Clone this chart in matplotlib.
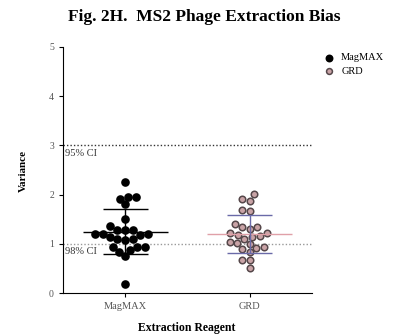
import numpy as np
import matplotlib
matplotlib.use('Agg')
import matplotlib.pyplot as plt

plt.rcParams['font.family'] = ['Liberation Serif', 'DejaVu Serif']

# values
groups = ['MagMAX', 'GRD']
magmax = [2.25, 1.96, 1.92, 1.95, 1.80, 1.51, 1.36, 1.21, 1.19, 1.29, 1.29, 1.29,
          1.21, 1.21, 1.10, 1.08, 1.10, 1.13, 0.93, 0.93, 0.83, 0.75, 0.88, 0.93, 0.18]
grd = [2.01, 1.88, 1.92, 1.69, 1.66, 1.34, 1.30, 1.34, 1.40, 1.23, 1.14, 1.18, 1.16,
       1.23, 1.04, 1.10, 1.01, 0.99, 0.94, 0.89, 0.91, 0.83, 0.67, 0.68, 0.51]
ci_levels = [3, 1]
ci_labels = ['95% CI', '98% CI']

fig = plt.figure(figsize=(3.96, 3.35), dpi=100)
ax = fig.add_axes([0.159, 0.125, 0.629, 0.735])
ax.set_xlim(-0.5, 1.5)
ax.set_ylim(0, 5)


def swarm(vals, center, diam):
    # simple beeswarm in pixel space
    vals = np.asarray(vals, float)
    pts = ax.transData.transform(np.column_stack([np.full(len(vals), center), vals]))
    steps = np.arange(0, 60, 0.5)
    cands = np.concatenate([[0], np.ravel(np.column_stack([-steps[1:], steps[1:]]))])
    placed = []
    out = np.zeros(len(vals))
    for i in np.argsort(vals):
        x0, y0 = pts[i]
        for c in cands:
            x = x0 + c
            if all((x - px) ** 2 + (y0 - py) ** 2 >= diam ** 2 for px, py in placed):
                break
        placed.append((x, y0))
        out[i] = ax.transData.inverted().transform((x, y0))[0]
    return out


styles = [
    dict(face='black', edge='black', mean='black', sd='black', s=26),
    dict(face='#c9a3a6', edge='#55474a', mean='#e0a0a8', sd='#6a6aa8', s=22),
]

for i, (name, vals) in enumerate(zip(groups, [magmax, grd])):
    st = styles[i]
    xs = swarm(vals, i, 7.6)
    ax.scatter(xs, vals, s=st['s'], c=st['face'], edgecolors=st['edge'], linewidths=1.1,
               zorder=3, label=name)
    m = np.mean(vals)
    sd = np.std(vals, ddof=1)
    ax.hlines(m, i - 0.34, i + 0.34, color=st['mean'], lw=1.0, zorder=4)
    ax.hlines([m - sd, m + sd], i - 0.18, i + 0.18, color=st['sd'], lw=1.0, zorder=4)
    ax.vlines(i, m - sd, m + sd, color=st['sd'], lw=1.0, zorder=4)

for lvl, lab, col in zip(ci_levels, ci_labels, ['#333333', '#999999']):
    ax.axhline(lvl, color=col, ls=(0, (1, 1.5)), lw=1.0, zorder=1)
    ax.text(-0.48, lvl - 0.07, lab, fontsize=7.5, color='#333333', va='top', ha='left')

ax.spines['top'].set_visible(False)
ax.spines['right'].set_visible(False)
ax.set_xticks([0, 1])
ax.set_xticklabels(groups, fontsize=7.5, color='#555555')
ax.set_yticks([0, 1, 2, 3, 4, 5])
ax.tick_params(axis='y', labelsize=7, labelcolor='#555555', length=3)
ax.tick_params(axis='x', length=3)

fig.text(0.515, 0.95, 'Fig. 2H.  MS2 Phage Extraction Bias', ha='center', va='center',
         fontsize=12.5, fontweight='bold')
fig.text(0.06, 0.49, 'Variance', rotation=90, ha='center', va='center',
         fontsize=8, fontweight='bold')
fig.text(0.472, 0.022, 'Extraction Reagent', ha='center', va='center',
         fontsize=8.5, fontweight='bold')

ax.legend(loc='upper left', bbox_to_anchor=(1.0, 1.0), frameon=False, fontsize=7.5,
          handletextpad=0.2, labelspacing=0.4, markerscale=0.9, borderaxespad=0.2)

fig.savefig('out.png', dpi=100)
